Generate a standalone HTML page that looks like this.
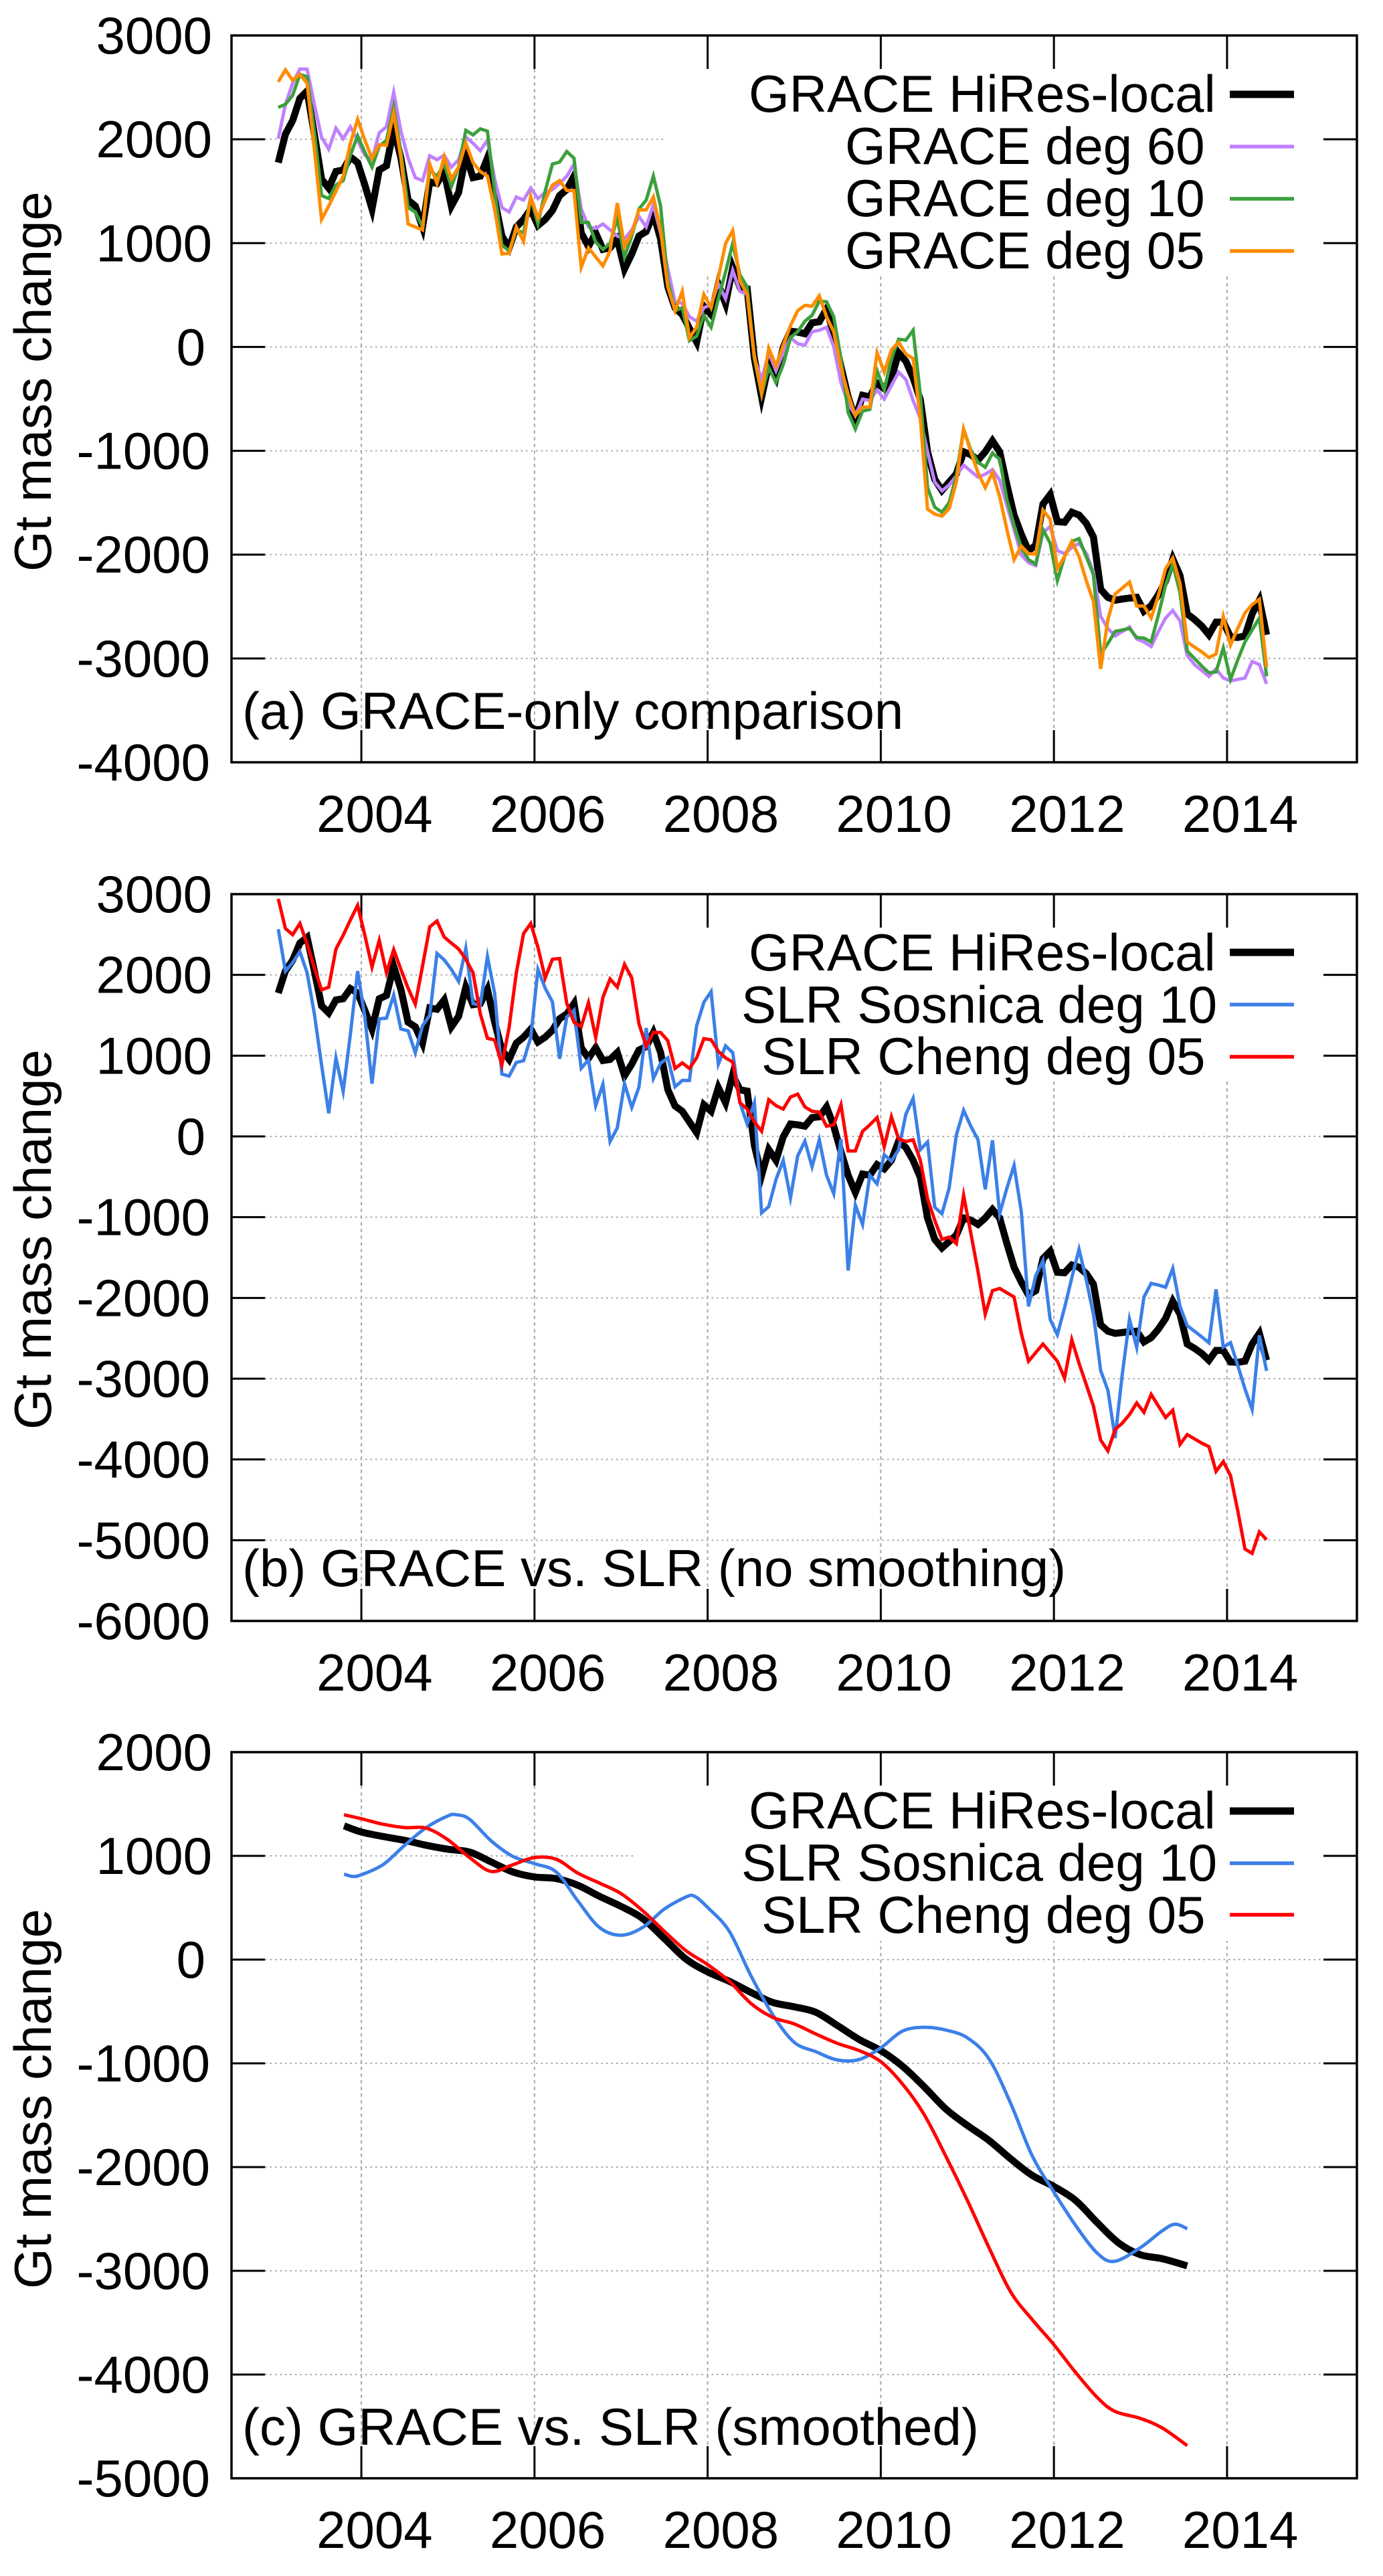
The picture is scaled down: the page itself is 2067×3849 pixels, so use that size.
<!DOCTYPE html>
<html lang="en">
<head>
<meta charset="utf-8">
<title>GRACE and SLR mass change comparison</title>
<style>
html,body{margin:0;padding:0;background:#fff;}
svg{display:block;}
text{font-family:"Liberation Sans",sans-serif;font-size:78px;fill:#000;}
</style>
</head>
<body>
<svg id="figure" xmlns="http://www.w3.org/2000/svg" width="2067" height="3849" viewBox="0 0 2067 3849">
  <rect x="0" y="0" width="2067" height="3849" fill="#fff"/>

  <g id="panel-a">
    <g id="grid-a"></g>
    <rect x="995" y="103" width="983" height="310" fill="#fff"/>
    <g id="ticks-a"></g>
    <g id="series-a"></g>
    <rect x="346" y="53" width="1682" height="1086" fill="none" stroke="#000" stroke-width="3.5"/>
    <text transform="translate(76,854) rotate(-90)">Gt mass change</text>
    <text x="362" y="1089">(a) GRACE-only comparison</text>
    <g>
      <text x="1119" y="167">GRACE HiRes-local</text>
      <line x1="1838" x2="1934" y1="141" y2="141" stroke="#000" stroke-width="11"/>
      <text x="1263" y="245">GRACE deg 60</text>
      <line x1="1838" x2="1934" y1="219" y2="219" stroke="#c080ff" stroke-width="5.5"/>
      <text x="1263" y="323">GRACE deg 10</text>
      <line x1="1838" x2="1934" y1="297" y2="297" stroke="#3ca03c" stroke-width="5.5"/>
      <text x="1263" y="401">GRACE deg 05</text>
      <line x1="1838" x2="1934" y1="375" y2="375" stroke="#ff8c00" stroke-width="5.5"/>
    </g>
  </g>

  <g id="panel-b">
    <g id="grid-b"></g>
    <rect x="951" y="1386" width="1027" height="230" fill="#fff"/>
    <g id="ticks-b"></g>
    <g id="series-b"></g>
    <rect x="346" y="1336" width="1682" height="1086" fill="none" stroke="#000" stroke-width="3.5"/>
    <text transform="translate(76,2136) rotate(-90)">Gt mass change</text>
    <text x="362" y="2370">(b) GRACE vs. SLR (no smoothing)</text>
    <g>
      <text x="1119" y="1450">GRACE HiRes-local</text>
      <line x1="1838" x2="1934" y1="1423" y2="1423" stroke="#000" stroke-width="11"/>
      <text x="1108" y="1528">SLR Sosnica deg 10</text>
      <line x1="1838" x2="1934" y1="1501" y2="1501" stroke="#3c80e8" stroke-width="5.5"/>
      <text x="1138" y="1605">SLR Cheng deg 05</text>
      <line x1="1838" x2="1934" y1="1579" y2="1579" stroke="#ff0000" stroke-width="5.5"/>
    </g>
  </g>

  <g id="panel-c">
    <g id="grid-c"></g>
    <rect x="950" y="2668" width="1028" height="232" fill="#fff"/>
    <g id="ticks-c"></g>
    <g id="series-c"></g>
    <rect x="346" y="2618" width="1682" height="1085" fill="none" stroke="#000" stroke-width="3.5"/>
    <text transform="translate(76,3420) rotate(-90)">Gt mass change</text>
    <text x="362" y="3653">(c) GRACE vs. SLR (smoothed)</text>
    <g>
      <text x="1119" y="2732">GRACE HiRes-local</text>
      <line x1="1838" x2="1934" y1="2706" y2="2706" stroke="#000" stroke-width="11"/>
      <text x="1108" y="2810">SLR Sosnica deg 10</text>
      <line x1="1838" x2="1934" y1="2784" y2="2784" stroke="#3c80e8" stroke-width="5.5"/>
      <text x="1138" y="2888">SLR Cheng deg 05</text>
      <line x1="1838" x2="1934" y1="2861" y2="2861" stroke="#ff0000" stroke-width="5.5"/>
    </g>
  </g>
</svg>

<script>
/* ---------- data (Gt, monthly unless stated) ---------- */
const firstMonthYear = 2003.04;
const monthsPerYear = 12;

const xTickYears = [2004, 2006, 2008, 2010, 2012, 2014];
const yTicksA = [3000, 2000, 1000, 0, -1000, -2000, -3000, -4000];
const yTicksB = [3000, 2000, 1000, 0, -1000, -2000, -3000, -4000, -5000, -6000];
const yTicksC = [2000, 1000, 0, -1000, -2000, -3000, -4000, -5000];

const graceHiRes = [1775,2050,2180,2395,2465,2050,1617,1530,1690,1705,
1830,1775,1560,1330,1705,1745,2105,1820,1415,1357,
1155,1590,1575,1690,1357,1487,1847,1631,1645,1820,
1415,1069,954,1155,1228,1328,1170,1228,1314,1458,
1516,1645,1098,968,1098,940,954,1040,752,896,
1069,1112,1285,1040,579,377,312,180,48,391,
312,603,418,762,577,561,-111,-481,-164,-296,
-5,153,143,127,233,243,365,127,-190,-481,
-693,-466,-481,-349,-402,-296,-58,-138,-296,-508,
-1010,-1275,-1381,-1301,-1222,-1010,-1037,-1090,-1010,-905,
-1010,-1328,-1619,-1804,-1963,-1910,-1513,-1423,-1682,-1688,
-1592,-1619,-1698,-1830,-2333,-2412,-2439,-2428,-2418,-2412,
-2545,-2492,-2386,-2254,-2042,-2201,-2571,-2624,-2687,-2772,
-2650,-2650,-2793,-2798,-2783,-2571,-2439,-2772];

const graceDeg60 = [2006,2337,2539,2677,2675,2337,2020,1905,2107,2006,
2121,1990,1847,1804,2063,2121,2452,2078,1818,1631,
1602,1841,1804,1847,1732,1804,2020,1962,1890,1991,
1617,1343,1300,1444,1415,1530,1429,1487,1516,1574,
1645,1761,1329,1156,1141,1184,1127,1069,1040,1127,
1257,1156,1372,1098,752,435,420,291,248,378,
406,608,464,738,536,507,-112,-314,-55,-228,
-55,89,32,17,147,161,190,3,-343,-545,
-660,-501,-516,-415,-501,-372,-242,-314,-516,-689,
-1010,-1300,-1386,-1328,-1240,-1138,-1196,-1254,-1225,-1182,
-1283,-1528,-1759,-2004,-2076,-2105,-1788,-1730,-1961,-1990,
-1932,-1889,-1990,-2163,-2596,-2711,-2784,-2740,-2697,-2812,
-2841,-2885,-2740,-2610,-2538,-2639,-2971,-3058,-3115,-3173,
-3101,-3188,-3216,-3202,-3188,-3029,-3058,-3245];

const graceDeg10 = [2308,2337,2424,2625,2602,2078,1458,1429,1559,1602,
1847,2034,1876,1732,1934,1991,2308,1876,1343,1300,
1155,1703,1645,1761,1545,1732,2086,2043,2101,2078,
1501,983,925,1127,1098,1444,1184,1501,1761,1781,
1882,1818,1199,1199,1011,940,997,1242,867,1069,
1329,1415,1646,1357,637,349,378,61,104,305,
190,464,723,997,695,579,-112,-458,-199,-343,
-170,89,147,248,305,441,435,291,-112,-631,
-790,-617,-602,-228,-415,-112,75,66,161,-458,
-1355,-1543,-1592,-1499,-1240,-792,-994,-1110,-1159,-1023,
-1081,-1470,-1716,-1932,-2048,-2091,-1759,-1889,-2250,-2019,
-1874,-1846,-2019,-2192,-2957,-2856,-2740,-2726,-2711,-2798,
-2804,-2841,-2582,-2293,-2091,-2365,-2928,-3000,-3072,-3138,
-3130,-2899,-3202,-3014,-2841,-2726,-2610,-3173];

const graceDeg05 = [2553,2669,2568,2625,2539,1905,1228,1357,1501,1646,
1963,2193,1991,1818,1948,1942,2251,1818,1184,1155,
1127,1761,1574,1833,1617,1732,1963,1775,1689,1646,
1329,896,902,1155,1017,1444,1242,1415,1559,1602,
1507,1507,767,954,867,781,925,1386,968,1098,
1320,1320,1444,1127,579,349,536,89,190,507,
378,666,997,1121,637,507,-84,-444,-12,-184,
17,205,349,401,392,493,291,147,-199,-458,
-660,-579,-579,-55,-242,-26,46,-69,-112,-689,
-1563,-1609,-1629,-1557,-1297,-792,-1009,-1211,-1355,-1211,
-1442,-1759,-2048,-1918,-1990,-1996,-1571,-1658,-2134,-2019,
-1874,-2019,-2250,-2452,-3101,-2625,-2380,-2322,-2264,-2495,
-2495,-2610,-2394,-2134,-2033,-2278,-2841,-2890,-2936,-2991,
-2957,-2596,-2870,-2711,-2561,-2481,-2429,-3087];

const slrSosnica = [2566,2047,2152,2287,2026,1519,886,287,971,557,
1266,2047,1477,654,1456,1464,1751,1329,1308,1034,
1372,1498,2266,2186,2068,1920,2329,1646,1625,2228,
1772,772,747,916,937,1224,2068,1836,1667,962,
1477,1561,844,949,380,646,-63,105,654,359,
612,1342,717,907,973,614,693,693,1370,1661,
1793,894,1121,1037,418,153,418,-947,-868,-534,
-296,-762,-243,-58,-376,-42,-481,-709,-32,-1661,
-852,-1090,-481,-587,-227,-307,-164,275,471,-164,
-69,-878,-957,-640,21,323,127,-42,-656,-48,
-957,-640,-360,-931,-2105,-1725,-1539,-2264,-2455,-2121,
-1751,-1397,-1777,-2201,-2899,-3142,-3735,-2941,-2264,-2613,
-1989,-1820,-1841,-1867,-1635,-2105,-2343,-2412,-2481,-2555,
-1894,-2608,-2555,-2835,-3126,-3380,-2465,-2904];

const slrCheng = [2941,2574,2498,2637,2384,2089,1815,1848,2321,2490,
2680,2861,2490,2097,2427,2026,2313,2068,1836,1637,
2110,2595,2667,2469,2393,2321,2194,2026,1519,1215,
1194,886,1350,2026,2511,2637,2342,1962,2194,2203,
1646,1414,1359,1654,1224,1722,1950,1848,2131,1962,
1393,1118,1287,1287,1185,841,910,841,973,1211,
1196,1053,973,920,418,339,180,63,455,381,
339,487,524,365,312,301,127,143,391,-180,
-180,63,143,233,-127,243,-32,-63,-42,-296,
-772,-1037,-1275,-1248,-1328,-730,-1196,-1672,-2201,-1910,
-1883,-1936,-1989,-2439,-2783,-2677,-2571,-2677,-2783,-2994,
-2518,-2809,-3073,-3338,-3761,-3893,-3629,-3550,-3444,-3301,
-3417,-3195,-3338,-3481,-3391,-3814,-3692,-3745,-3798,-3841,
-4147,-4026,-4200,-4634,-5110,-5163,-4898,-4994];

/* panel (c): smoothed curves, sampled at decimal years */
const smoothGraceYears = [2003.8,2004,2004.25,2004.5,2004.75,2005,2005.25,2005.5,2005.75,2006,2006.25,2006.5,2006.75,2007,2007.25,2007.5,2007.75,2008,2008.25,2008.5,2008.75,2009,2009.25,2009.5,2009.75,2010,2010.25,2010.5,2010.75,2011,2011.25,2011.5,2011.75,2012,2012.25,2012.5,2012.75,2013,2013.25,2013.54];
const smoothGraceValues = [1289,1230,1187,1150,1102,1064,1037,941,845,797,781,717,610,513,396,203,5,-118,-209,-316,-412,-455,-508,-636,-770,-877,-1027,-1225,-1439,-1599,-1743,-1920,-2080,-2187,-2321,-2535,-2733,-2845,-2883,-2952];

const smoothSosnicaYears = [2003.8,2003.9,2004,2004.25,2004.5,2004.75,2005,2005.1,2005.25,2005.5,2005.75,2006,2006.25,2006.5,2006.75,2007,2007.25,2007.5,2007.75,2007.85,2008,2008.25,2008.5,2008.75,2009,2009.25,2009.5,2009.75,2010,2010.25,2010.5,2010.75,2011,2011.25,2011.5,2011.75,2012,2012.25,2012.5,2012.7,2013,2013.25,2013.4,2013.54];
const smoothSosnicaValues = [824,802,818,915,1102,1273,1385,1396,1353,1144,995,925,845,567,310,235,310,487,604,610,503,273,-155,-529,-797,-888,-968,-963,-850,-690,-652,-679,-754,-957,-1385,-1893,-2241,-2562,-2829,-2909,-2776,-2615,-2551,-2594];

const smoothChengYears = [2003.8,2004,2004.25,2004.5,2004.75,2005,2005.25,2005.5,2005.75,2006,2006.25,2006.5,2006.75,2007,2007.25,2007.5,2007.75,2008,2008.25,2008.5,2008.75,2009,2009.25,2009.5,2009.75,2010,2010.25,2010.5,2010.75,2011,2011.25,2011.5,2011.75,2012,2012.25,2012.5,2012.7,2013,2013.25,2013.54];
const smoothChengValues = [1396,1358,1305,1273,1267,1155,984,850,915,984,968,834,738,636,471,273,86,-48,-209,-422,-556,-620,-717,-808,-877,-984,-1198,-1492,-1893,-2321,-2776,-3203,-3471,-3712,-3979,-4220,-4353,-4423,-4514,-4685];

/* ---------- scales ---------- */
const SVG_NS = 'http://www.w3.org/2000/svg';
const X_LEFT = 346, X_RIGHT = 2028, X_MIN = 2002.5, X_MAX = 2015.5;
const TICK = 50;

function xScale(year) {
  return X_LEFT + (year - X_MIN) / (X_MAX - X_MIN) * (X_RIGHT - X_LEFT);
}
function yScaleFor(top, bottom, vMax, vMin) {
  return function (v) { return top + (vMax - v) / (vMax - vMin) * (bottom - top); };
}
function make(tag, attrs, parent) {
  const el = document.createElementNS(SVG_NS, tag);
  for (const k in attrs) el.setAttribute(k, attrs[k]);
  parent.appendChild(el);
  return el;
}

/* ---------- axes ---------- */
function drawAxes(id, top, bottom, yTicks, y) {
  const grid = document.getElementById('grid-' + id);
  const ticks = document.getElementById('ticks-' + id);
  yTicks.forEach(function (v) {
    const py = y(v);
    if (v !== yTicks[0] && v !== yTicks[yTicks.length - 1]) {
      const g = make('line', {x1: X_LEFT + TICK, x2: X_RIGHT - TICK, y1: py, y2: py, stroke: '#a8a8a8', 'stroke-width': 2, 'stroke-dasharray': '2.5 5'}, grid);
      
      
      const t1 = make('line', {x1: X_LEFT, x2: X_LEFT + TICK, y1: py, y2: py, stroke: '#000', 'stroke-width': 3}, ticks);
      
      
      const t2 = make('line', {x1: X_RIGHT - TICK, x2: X_RIGHT, y1: py, y2: py, stroke: '#000', 'stroke-width': 3}, ticks);
      
      
    }
    const anchorX = v === 0 ? 307 : (v < 0 ? 314 : 317);
    const label = make('text', {x: anchorX, y: py + 27, 'text-anchor': 'end'}, ticks);
    label.textContent = String(v);
    
    
  });
  xTickYears.forEach(function (year) {
    const px = xScale(year);
    const g = make('line', {x1: px, x2: px, y1: top + TICK, y2: bottom - 48, stroke: '#a8a8a8', 'stroke-width': 2, 'stroke-dasharray': '5 5'}, grid);
    
    
    const t1 = make('line', {x1: px, x2: px, y1: top, y2: top + TICK, stroke: '#000', 'stroke-width': 3}, ticks);
    
    
    const t2 = make('line', {x1: px, x2: px, y1: bottom - 48, y2: bottom, stroke: '#000', 'stroke-width': 3}, ticks);
    
    
    const label = make('text', {x: px - 67, y: bottom + 104}, ticks);
    label.textContent = String(year);
    
    
  });
}

/* ---------- series ---------- */
function monthlyPoints(values, y) {
  return values.map(function (v, i) {
    return xScale(firstMonthYear + i / monthsPerYear).toFixed(1) + ',' + y(v).toFixed(1);
  }).join(' ');
}
function smoothPath(years, values, y) {
  const p = years.map(function (t, i) { return [xScale(t), y(values[i])]; });
  let d = 'M' + p[0][0].toFixed(1) + ' ' + p[0][1].toFixed(1);
  for (let i = 0; i < p.length - 1; i++) {
    const a = p[Math.max(i - 1, 0)], b = p[i], c = p[i + 1], e = p[Math.min(i + 2, p.length - 1)];
    d += 'C' + (b[0] + (c[0] - a[0]) / 6).toFixed(1) + ' ' + (b[1] + (c[1] - a[1]) / 6).toFixed(1) +
         ' ' + (c[0] - (e[0] - b[0]) / 6).toFixed(1) + ' ' + (c[1] - (e[1] - b[1]) / 6).toFixed(1) +
         ' ' + c[0].toFixed(1) + ' ' + c[1].toFixed(1);
  }
  return d;
}
const lineStyle = {fill: 'none', 'stroke-linejoin': 'miter', 'stroke-miterlimit': 6};
function monthlyLine(id, values, y, color, width) {
  const attrs = Object.assign({points: monthlyPoints(values, y), stroke: color, 'stroke-width': width}, lineStyle);
  return make('polyline', attrs, document.getElementById('series-' + id));
}
function smoothLine(years, values, y, color, width) {
  const attrs = Object.assign({d: smoothPath(years, values, y), stroke: color, 'stroke-width': width}, lineStyle);
  return make('path', attrs, document.getElementById('series-c'));
}

const yA = yScaleFor(53, 1139, 3000, -4000);
const yB = yScaleFor(1336, 2422, 3000, -6000);
const yC = yScaleFor(2618, 3703, 2000, -5000);

drawAxes('a', 53, 1139, yTicksA, yA);
drawAxes('b', 1336, 2422, yTicksB, yB);
drawAxes('c', 2618, 3703, yTicksC, yC);

const a1 = monthlyLine('a', graceHiRes, yA, '#000', 10.5);


const a2 = monthlyLine('a', graceDeg60, yA, '#c080ff', 5);


const a3 = monthlyLine('a', graceDeg10, yA, '#3ca03c', 5);


const a4 = monthlyLine('a', graceDeg05, yA, '#ff8c00', 5);



const b1 = monthlyLine('b', graceHiRes, yB, '#000', 10.5);


const b2 = monthlyLine('b', slrSosnica, yB, '#3c80e8', 5);


const b3 = monthlyLine('b', slrCheng, yB, '#ff0000', 5);



const c1 = smoothLine(smoothGraceYears, smoothGraceValues, yC, '#000', 10.5);


const c2 = smoothLine(smoothSosnicaYears, smoothSosnicaValues, yC, '#3c80e8', 5);


const c3 = smoothLine(smoothChengYears, smoothChengValues, yC, '#ff0000', 5);


</script>
</body>
</html>
